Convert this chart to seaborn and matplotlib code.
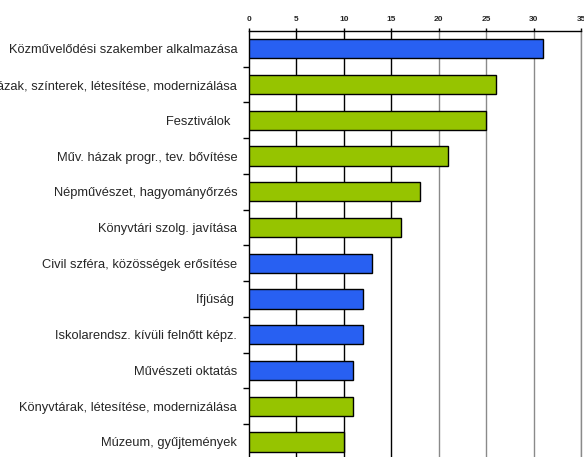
import matplotlib
matplotlib.use("Agg")
import matplotlib.pyplot as plt
import seaborn as sns
import pandas as pd

categories = [
    "Közművelődési szakember alkalmazása",
    "Művelődési házak, színterek, létesítése, modernizálása",
    "Fesztiválok  ",
    "Műv. házak progr., tev. bővítése",
    "Népművészet, hagyományőrzés",
    "Könyvtári szolg. javítása",
    "Civil szféra, közösségek erősítése",
    "Ifjúság ",
    "Iskolarendsz. kívüli felnőtt képz.",
    "Művészeti oktatás",
    "Könyvtárak, létesítése, modernizálása",
    "Múzeum, gyűjtemények",
]
values = [31, 26, 25, 21, 18, 16, 13, 12, 12, 11, 11, 10]
groups = ["b", "g", "g", "g", "g", "g", "b", "b", "b", "b", "g", "g"]
x_ticks = [0, 5, 10, 15, 20, 25, 30, 35]

BLUE = "#2860f2"
GREEN = "#96c400"
colors = {cat: (BLUE if g == "b" else GREEN) for cat, g in zip(categories, groups)}

sns.set_style("white")
plt.rcParams["font.family"] = ["Liberation Sans", "DejaVu Sans"]

df = pd.DataFrame({"cat": categories, "val": values})

fig = plt.figure(figsize=(5.84, 4.57), dpi=100)
ax = fig.add_axes([249 / 584, -0.006, 332 / 584, 0.9322 + 0.006])

sns.barplot(data=df, x="val", y="cat", hue="cat", palette=colors, legend=False,
            orient="h", width=0.54, edgecolor="black", linewidth=1.0,
            saturation=1, ax=ax, zorder=3)

ax.set_xlim(0, 35)
ax.set_ylim(len(categories) - 0.5, -0.5)
ax.set_xticks(x_ticks)
ax.xaxis.tick_top()
ax.tick_params(axis="x", top=True, bottom=False, length=2, width=1, color="black",
               labelsize=6, pad=3.5)
for lab in ax.get_xticklabels():
    lab.set_fontweight("bold")

# grid lines
for xv in x_ticks[1:]:
    c = "black" if xv <= 15 else "#8a8a8a"
    ax.axvline(xv, color=c, linewidth=1.0, zorder=1)

ax.set_yticks(range(len(categories)))
ax.set_yticklabels(categories, fontsize=9.3)
ax.tick_params(axis="y", length=0, pad=8.5)
ax.set_yticks([i + 0.5 for i in range(len(categories) - 1)], minor=True)
ax.tick_params(axis="y", which="minor", left=True, length=4, width=1, color="black")
ax.set_xlabel("")
ax.set_ylabel("")

for side in ["left", "top", "right"]:
    ax.spines[side].set_visible(True)
    ax.spines[side].set_color("black")
    ax.spines[side].set_linewidth(1.0)
ax.spines["right"].set_color("#8a8a8a")
ax.spines["bottom"].set_visible(False)

fig.savefig("out.png", dpi=100)
